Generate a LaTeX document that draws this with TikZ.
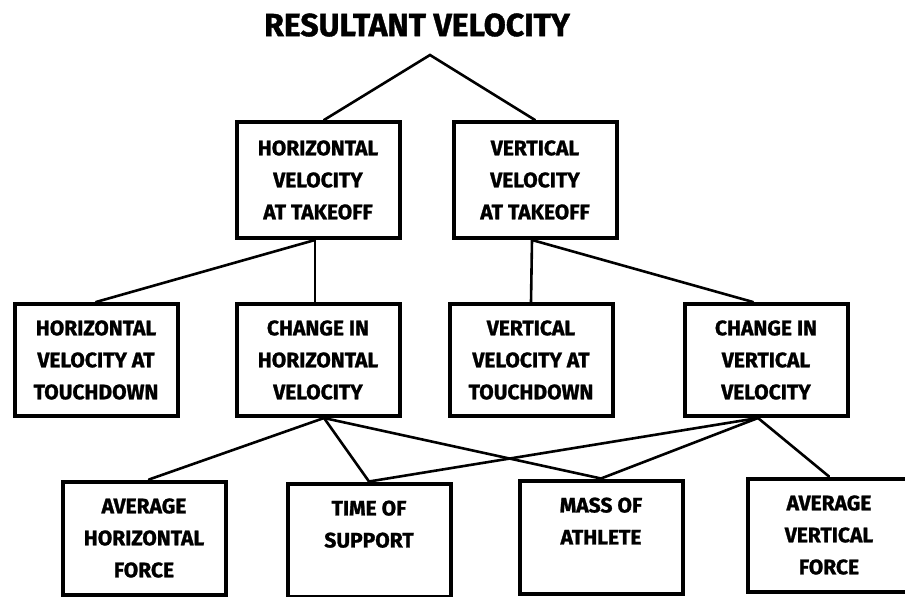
\documentclass[tikz,border=0pt]{standalone}
\usepackage{fontspec}
\setmainfont{Fira Sans}[BoldFeatures={FakeBold=1.2}]

\begin{document}
\begin{tikzpicture}[x=1pt,y=-1pt,
  box/.style={draw,line width=4pt,rectangle,minimum width=163pt,
    minimum height=112pt,inner sep=0pt,align=center,
    font=\bfseries\fontsize{21}{32}\selectfont},
  link/.style={line width=2.6pt,line cap=round}]
  \clip (0,0) rectangle (905,597);

  % Title
  \node[font=\bfseries\fontsize{32}{38}\selectfont] (title) at (417,25)
    {RESULTANT VELOCITY};
  \coordinate (apex) at (430,55);

  % Takeoff velocities
  \node[box,minimum height=116pt] (hvt) at (318,180) {HORIZONTAL\\VELOCITY\\AT TAKEOFF};
  \node[box,minimum height=116pt] (vvt) at (535,180) {VERTICAL\\VELOCITY\\AT TAKEOFF};

  % Touchdown and change
  \node[box] (hvtd) at (96,360)  {HORIZONTAL\\VELOCITY AT\\TOUCHDOWN};
  \node[box] (chv)  at (318,360) {CHANGE IN\\HORIZONTAL\\VELOCITY};
  \node[box] (vvtd) at (531,360) {VERTICAL\\VELOCITY AT\\TOUCHDOWN};
  \node[box] (cvv)  at (766,360) {CHANGE IN\\VERTICAL\\VELOCITY};

  % Forces, time, mass
  \node[box,minimum height=113pt] (ahf) at (144,538) {AVERAGE\\HORIZONTAL\\FORCE};
  \node[box,minimum height=113pt] (tos) at (369,540) {TIME OF\\SUPPORT\\~};
  \node[box,minimum height=113pt] (moa) at (601,537) {MASS OF\\ATHLETE\\~};
  \node[box,minimum height=113pt] (avf) at (829,535) {AVERAGE\\VERTICAL\\FORCE};

  % Links
  \draw[link] ([xshift=6pt]hvt.north) -- (apex) -- (vvt.north);
  \draw[link] ([xshift=-3pt]hvt.south) -- (hvtd.north);
  \draw[link] ([xshift=-3pt]hvt.south) -- ([xshift=-3pt]chv.north);
  \draw[link] ([xshift=-3pt]vvt.south) -- (vvtd.north);
  \draw[link] ([xshift=-3pt]vvt.south) -- ([xshift=-13pt]cvv.north);
  \draw[link] ([xshift=6pt]chv.south) -- ([xshift=5pt]ahf.north);
  \draw[link] ([xshift=6pt]chv.south) -- (tos.north);
  \draw[link] ([xshift=6pt]chv.south) -- (moa.north);
  \draw[link] ([xshift=-8pt]cvv.south) -- (tos.north);
  \draw[link] ([xshift=-8pt]cvv.south) -- (moa.north);
  \draw[link] ([xshift=-8pt]cvv.south) -- (avf.north);
\end{tikzpicture}
\end{document}
